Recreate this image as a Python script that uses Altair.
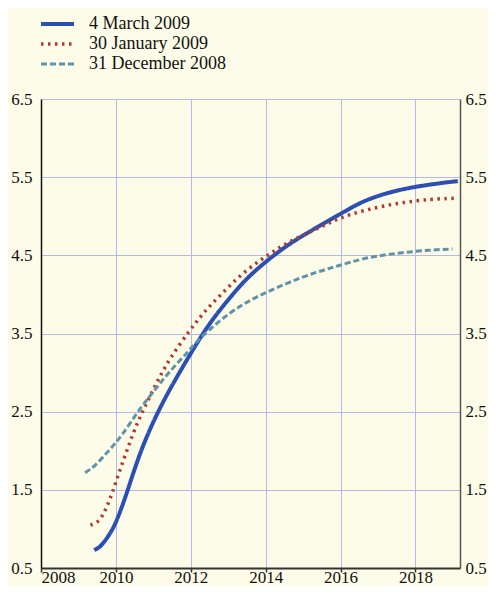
import altair as alt
import pandas as pd

series_names = ["4 March 2009", "30 January 2009", "31 December 2008"]
series_colors = ["#2B4FB3", "#B3392F", "#5F94A8"]
series_dashes = [[1, 0], [2.5, 4.5], [6, 3]]
series_widths = [4, 3, 4]

march_years = [2009.42, 2009.55, 2009.67, 2009.86, 2010.0, 2010.16, 2010.32, 2010.67,
               2011.12, 2011.5, 2012.1, 2012.54, 2013.08, 2013.5, 2014.0, 2014.6,
               2015.3, 2016.0, 2016.64, 2017.53, 2018.42, 2019.13]
march_values = [0.73, 0.76, 0.82, 0.95, 1.08, 1.28, 1.5, 2.02,
                2.5, 2.84, 3.33, 3.66, 3.98, 4.21, 4.42, 4.64,
                4.84, 5.03, 5.21, 5.34, 5.41, 5.45]

january_years = [2009.32, 2009.51, 2009.63, 2009.74, 2009.90, 2010.11, 2010.33, 2010.56,
                 2010.84, 2011.14, 2011.45, 2011.97, 2012.25, 2012.52, 2012.83, 2013.14,
                 2013.49, 2013.86, 2014.21, 2014.57, 2015.01, 2015.55, 2015.98, 2016.64,
                 2017.53, 2018.42, 2019.04]
january_values = [1.05, 1.08, 1.16, 1.26, 1.45, 1.76, 2.05, 2.35,
                  2.63, 2.92, 3.19, 3.54, 3.71, 3.86, 4.01, 4.16,
                  4.31, 4.44, 4.55, 4.66, 4.76, 4.88, 4.98, 5.08,
                  5.17, 5.22, 5.23]

december_years = [2009.18, 2009.44, 2009.84, 2010.16, 2010.65, 2011.05, 2011.40, 2011.94,
                  2012.25, 2013.08, 2013.79, 2014.59, 2015.37, 2015.91, 2016.64, 2017.53,
                  2018.42, 2018.99]
december_values = [1.72, 1.80, 2.02, 2.19, 2.55, 2.78, 3.0, 3.27,
                   3.45, 3.79, 3.98, 4.15, 4.29, 4.36, 4.47, 4.53,
                   4.57, 4.58]

x_ticks = [2008, 2010, 2012, 2014, 2016, 2018]
y_ticks = [0.5, 1.5, 2.5, 3.5, 4.5, 5.5, 6.5]

rows = []
for name, xs, ys in [(series_names[0], march_years, march_values),
                     (series_names[1], january_years, january_values),
                     (series_names[2], december_years, december_values)]:
    for xv, yv in zip(xs, ys):
        rows.append({"series": name, "year": xv, "value": yv})
df = pd.DataFrame(rows)

FONT = "Liberation Serif"
BG = "#FDFCE8"
GRID = "#B5B8E8"

x_scale = alt.Scale(domain=[2008, 2019.19], nice=False, zero=False)
y_scale = alt.Scale(domain=[0.5, 6.5], nice=False, zero=False)

x_enc = alt.X("year:Q", scale=x_scale,
              axis=alt.Axis(values=x_ticks, format="d", title=None, grid=True,
                            gridColor=GRID, gridWidth=1, domainColor="#333333",
                            domainWidth=2, tickColor="#333333", tickWidth=1.5,
                            tickSize=4, labelPadding=10, labelBaseline="alphabetic"))

leg = alt.Legend(title=None, labelFont=FONT, labelFontSize=18)

lines = alt.Chart(df).mark_line(interpolate="basis", strokeCap="butt").encode(
    x=x_enc,
    y=alt.Y("value:Q", scale=y_scale,
            axis=alt.Axis(values=y_ticks, format=".1f", title=None, grid=True,
                          gridColor=GRID, gridWidth=1, ticks=False,
                          domainColor="#111111", domainWidth=1.5, labelPadding=9)),
    color=alt.Color("series:N", scale=alt.Scale(domain=series_names, range=series_colors), legend=leg),
    strokeDash=alt.StrokeDash("series:N", scale=alt.Scale(domain=series_names, range=series_dashes), legend=leg),
    strokeWidth=alt.StrokeWidth("series:N", scale=alt.Scale(domain=series_names, range=series_widths), legend=leg),
)

right_axis = alt.Chart(df).mark_line(opacity=0).encode(
    x=x_enc,
    y=alt.Y("value:Q", scale=y_scale,
            axis=alt.Axis(orient="right", values=y_ticks, format=".1f", title=None,
                          grid=False, ticks=False, domainColor="#555555",
                          domainWidth=1.5, labelPadding=5)),
    detail="series:N",
)

chart = alt.layer(lines, right_axis).resolve_axis(y="independent").properties(
    width=419,
    height=469,
    background=BG,
    autosize=alt.AutoSizeParams(type="none"),
    padding={"left": 33, "top": 91, "right": 28, "bottom": 18},
).configure_view(stroke=None, fill=BG).configure_axis(
    labelFont=FONT, labelFontSize=17, labelColor="#111111",
).configure_legend(
    orient="none", legendX=7.5, legendY=-84, symbolType="M-6,0H6",
    symbolSize=30.25, labelFont=FONT, labelFontSize=18, labelColor="#111111",
    labelOffset=22.5, rowPadding=2, padding=0,
)

chart.save("out.html", embed_options={"renderer": "svg", "actions": False})
